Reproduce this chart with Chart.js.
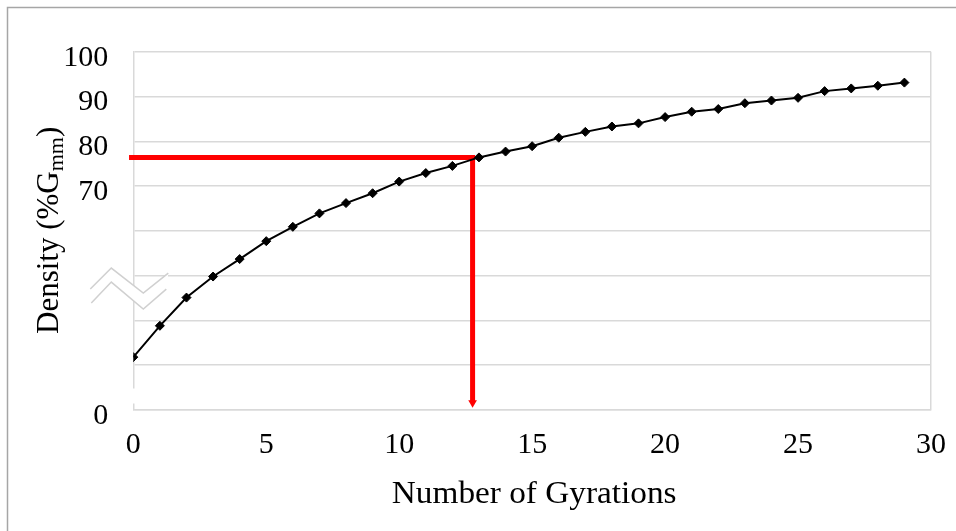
<!DOCTYPE html>
<html>
<head>
<meta charset="utf-8">
<script src="https://cdn.jsdelivr.net/npm/chart.js@4/dist/chart.umd.min.js"></script>
<style>
  html, body { margin: 0; padding: 0; background: #ffffff; }
  canvas { display: block; }
</style>
</head>
<body>
<canvas id="chart" width="956" height="531"></canvas>
<script>
// Gyratory compaction curve: density vs. number of gyrations
const gyrations = [0, 1, 2, 3, 4, 5, 6, 7, 8, 9, 10, 11, 12, 13, 14, 15, 16, 17, 18, 19, 20, 21, 22, 23, 24, 25, 26, 27, 28, 29];
const density = [31.8, 38.8, 45.1, 49.8, 53.7, 57.7, 60.9, 63.9, 66.2, 68.4, 71.0, 72.9, 74.5, 76.4, 77.7, 78.9, 80.8, 82.1, 83.3, 84.0, 85.4, 86.6, 87.2, 88.5, 89.1, 89.7, 91.2, 91.8, 92.4, 93.1];

// Read-off guide: target density across to the curve, then down to the gyration count
const guideX = [-0.16, 12.76, 12.76];
const guideY = [76.4, 76.4, 21.6];

// Axis ranges and labelled ticks (the bottom of the broken axis reads "0")
const xTicks = [0, 5, 10, 15, 20, 25, 30];
const yLabelled = [70, 80, 90, 100];
const yBreakBase = 20;

const serif = "'Liberation Serif', 'Times New Roman', serif";
const gridGrey = '#d9d9d9';

const decorations = {
  id: 'decorations',
  beforeDraw(chart) {
    const ctx = chart.ctx;
    ctx.save();
    ctx.fillStyle = '#ffffff';
    ctx.fillRect(0, 0, chart.width, chart.height);
    // outer frame
    ctx.strokeStyle = '#a6a6a6';
    ctx.lineWidth = 1.5;
    ctx.beginPath();
    ctx.moveTo(7.5, chart.height);
    ctx.lineTo(7.5, 7.5);
    ctx.lineTo(chart.width, 7.5);
    ctx.stroke();
    ctx.restore();
  },
  beforeDatasetsDraw(chart) {
    const ctx = chart.ctx;
    const a = chart.chartArea;
    const y = chart.scales.y;
    ctx.save();
    // gap in the vertical axis just above the zero line
    ctx.fillStyle = '#ffffff';
    ctx.fillRect(a.left - 3, y.getPixelForValue(24.8), 6, 15);

    // axis-break zigzag
    const x0 = a.left;
    const yb = y.getPixelForValue(47);
    const upper = [[-43, 0], [-22, -21], [10, 4], [35, -16]];
    const lower = [[-42, 14], [-22, -7], [10, 20], [33, 0]];
    ctx.beginPath();
    upper.forEach((p, i) => i ? ctx.lineTo(x0 + p[0], yb + p[1]) : ctx.moveTo(x0 + p[0], yb + p[1]));
    for (let i = lower.length - 1; i >= 0; i--) ctx.lineTo(x0 + lower[i][0], yb + lower[i][1]);
    ctx.closePath();
    ctx.fill();
    ctx.strokeStyle = '#d0d0d0';
    ctx.lineWidth = 1.5;
    [upper, lower].forEach(line => {
      ctx.beginPath();
      line.forEach((p, i) => i ? ctx.lineTo(x0 + p[0], yb + p[1]) : ctx.moveTo(x0 + p[0], yb + p[1]));
      ctx.stroke();
    });
    ctx.restore();
  },
  afterDraw(chart) {
    const ctx = chart.ctx;
    const a = chart.chartArea;
    ctx.save();
    ctx.fillStyle = '#000000';

    // x axis title
    ctx.font = '32px ' + serif;
    ctx.textAlign = 'center';
    ctx.textBaseline = 'alphabetic';
    ctx.translate((a.left + a.right) / 2 + 2, 503);
    ctx.scale(1.04, 1);
    ctx.fillText('Number of Gyrations', 0, 0);
    ctx.restore();

    // y axis title with subscript
    ctx.save();
    ctx.fillStyle = '#000000';
    ctx.textBaseline = 'alphabetic';
    ctx.textAlign = 'left';
    ctx.translate(a.left - 75, (a.top + a.bottom) / 2 - 0.5);
    ctx.rotate(-Math.PI / 2);
    const mainFont = '31px ' + serif;
    const subFont = '22px ' + serif;
    ctx.font = mainFont;
    const t1 = 'Density (%G', t3 = ')';
    const w1 = ctx.measureText(t1).width;
    const w3 = ctx.measureText(t3).width;
    ctx.font = subFont;
    const w2 = ctx.measureText('mm').width;
    const start = -(w1 + w2 + w3) / 2;
    ctx.font = mainFont;
    ctx.fillText(t1, start, 0);
    ctx.font = subFont;
    ctx.fillText('mm', start + w1, 5);
    ctx.font = mainFont;
    ctx.fillText(t3, start + w1 + w2, 0);
    ctx.restore();
  }
};

new Chart(document.getElementById('chart'), {
  type: 'scatter',
  data: {
    datasets: [
      {
        label: 'Density',
        data: gyrations.map((g, i) => ({ x: g, y: density[i] })),
        showLine: true,
        borderColor: '#000000',
        backgroundColor: '#000000',
        borderWidth: 2,
        pointStyle: 'rectRot',
        pointRadius: 4.5,
        pointBorderWidth: 1,
        tension: 0
      },
      {
        label: 'Guide',
        data: guideX.map((gx, i) => ({ x: gx, y: guideY[i] })),
        showLine: true,
        borderColor: '#ff0000',
        backgroundColor: '#ff0000',
        borderWidth: 5,
        borderJoinStyle: 'miter',
        pointStyle: 'triangle',
        pointRotation: 180,
        pointRadius: guideX.map((_, i) => i === guideX.length - 1 ? 5 : 0),
        pointBorderWidth: 0,
        clip: false
      }
    ]
  },
  options: {
    responsive: false,
    animation: false,
    events: [],
    layout: { padding: { left: 0, top: 51.7, right: 25, bottom: 0 } },
    plugins: { legend: { display: false }, tooltip: { enabled: false } },
    scales: {
      x: {
        type: 'linear',
        min: xTicks[0],
        max: xTicks[xTicks.length - 1],
        afterBuildTicks: s => { s.ticks = xTicks.map(v => ({ value: v })); },
        afterFit: s => { s.height = 121; s.paddingLeft = 0; s.paddingRight = 0; },
        grid: {
          drawTicks: false,
          lineWidth: 1.5,
          color: c => (c.tick && c.tick.value === xTicks[xTicks.length - 1]) ? gridGrey : 'rgba(0,0,0,0)'
        },
        border: { color: gridGrey, width: 1.5 },
        ticks: {
          padding: 17,
          color: '#000000',
          font: { family: serif, size: 30 }
        }
      },
      y: {
        type: 'linear',
        min: yBreakBase,
        max: 100,
        afterFit: s => { s.width = 133.3; s.paddingTop = 0; s.paddingBottom = 0; },
        grid: { drawTicks: false, lineWidth: 1.5, color: gridGrey },
        border: { color: gridGrey, width: 1.5 },
        ticks: {
          stepSize: 10,
          padding: 25,
          labelOffset: 6,
          color: '#000000',
          font: { family: serif, size: 30 },
          callback: v => v === yBreakBase ? '0' : (yLabelled.includes(v) ? String(v) : '')
        }
      }
    }
  },
  plugins: [decorations]
});
</script>
</body>
</html>
